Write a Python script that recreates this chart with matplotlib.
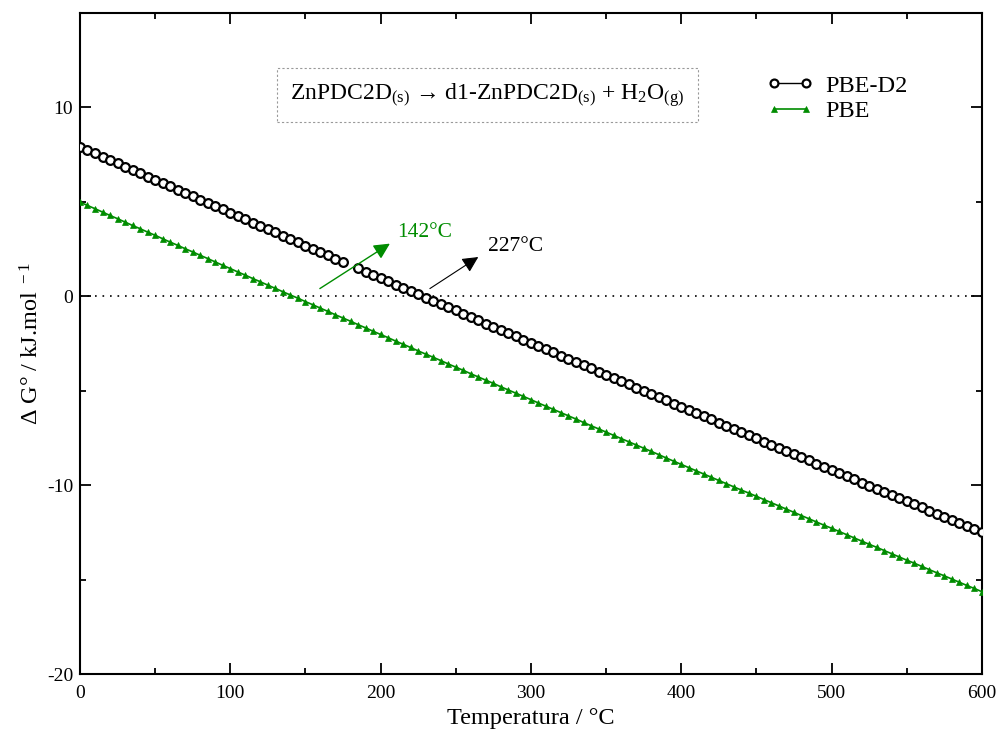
import numpy as np
import matplotlib
matplotlib.use("Agg")
import matplotlib.pyplot as plt
from matplotlib.ticker import MultipleLocator

plt.rcParams['font.family'] = ['Liberation Serif', 'DejaVu Serif']
plt.rcParams['mathtext.fontset'] = 'custom'
plt.rcParams['mathtext.rm'] = 'Liberation Serif'
plt.rcParams['mathtext.it'] = 'Liberation Serif:italic'
plt.rcParams['axes.unicode_minus'] = False

# temperature grid (every 5 degC)
temperatura = list(range(0, 605, 5))

# PBE-D2 (one point missing at 180 degC in the original)
dg_pbe_d2 = [
    7.92, 7.74, 7.57, 7.39, 7.22, 7.04, 6.87, 6.69, 6.52, 6.34,
    6.17, 5.99, 5.82, 5.64, 5.47, 5.29, 5.12, 4.94, 4.77, 4.60,
    4.42, 4.25, 4.07, 3.90, 3.73, 3.55, 3.38, 3.21, 3.03, 2.86,
    2.69, 2.51, 2.34, 2.17, 2.00, 1.82, np.nan, 1.48, 1.31, 1.13,
    0.96, 0.79, 0.62, 0.45, 0.27, 0.10, -0.07, -0.24, -0.41, -0.58,
    -0.75, -0.92, -1.10, -1.27, -1.44, -1.61, -1.78, -1.95, -2.12, -2.29,
    -2.46, -2.63, -2.80, -2.97, -3.14, -3.31, -3.48, -3.65, -3.82, -3.99,
    -4.16, -4.33, -4.50, -4.66, -4.83, -5.00, -5.17, -5.34, -5.51, -5.68,
    -5.84, -6.01, -6.18, -6.35, -6.52, -6.69, -6.85, -7.02, -7.19, -7.36,
    -7.52, -7.69, -7.86, -8.02, -8.19, -8.36, -8.53, -8.69, -8.86, -9.03,
    -9.19, -9.36, -9.52, -9.69, -9.86, -10.02, -10.19, -10.35, -10.52, -10.69,
    -10.85, -11.02, -11.18, -11.35, -11.51, -11.68, -11.84, -12.01, -12.17, -12.34,
    -12.50,
]

# PBE
dg_pbe = [
    4.99, 4.81, 4.64, 4.46, 4.28, 4.11, 3.93, 3.75, 3.58, 3.40,
    3.23, 3.05, 2.87, 2.70, 2.52, 2.35, 2.17, 2.00, 1.82, 1.64,
    1.47, 1.29, 1.12, 0.94, 0.77, 0.59, 0.42, 0.24, 0.07, -0.10,
    -0.28, -0.45, -0.63, -0.80, -0.98, -1.15, -1.32, -1.50, -1.67, -1.85,
    -2.02, -2.19, -2.37, -2.54, -2.71, -2.89, -3.06, -3.23, -3.40, -3.58,
    -3.75, -3.92, -4.10, -4.27, -4.44, -4.61, -4.79, -4.96, -5.13, -5.30,
    -5.47, -5.65, -5.82, -5.99, -6.16, -6.33, -6.50, -6.68, -6.85, -7.02,
    -7.19, -7.36, -7.53, -7.70, -7.87, -8.04, -8.21, -8.38, -8.56, -8.73,
    -8.90, -9.07, -9.24, -9.41, -9.58, -9.75, -9.92, -10.09, -10.26, -10.42,
    -10.59, -10.76, -10.93, -11.10, -11.27, -11.44, -11.61, -11.78, -11.95, -12.12,
    -12.28, -12.45, -12.62, -12.79, -12.96, -13.13, -13.29, -13.46, -13.63, -13.80,
    -13.97, -14.13, -14.30, -14.47, -14.64, -14.80, -14.97, -15.14, -15.31, -15.47,
    -15.64,
]

series_labels = ['PBE-D2', 'PBE']
crossing_labels = ['142°C', '227°C']
reaction = (r"ZnPDC2D$_{\rm (s)}$ → d1-ZnPDC2D$_{\rm (s)}$"
            r" + H$_{\rm 2}$O$_{\rm (g)}$")

green = '#008c00'

fig = plt.figure(figsize=(9.97, 7.32), dpi=100)
ax = fig.add_axes([0.0802, 0.0792, 0.9046, 0.903])

ax.axhline(0, color='black', lw=1.2, ls=(0, (1, 3.5)), zorder=1)

ax.plot(temperatura, dg_pbe_d2, color='black', lw=1.0, marker='o',
        ms=6.3, mfc='white', mec='black', mew=1.6, label=series_labels[0], zorder=3)
ax.plot(temperatura, dg_pbe, color=green, lw=1.2, marker='^',
        ms=5, mfc=green, mec=green, mew=0.5, label=series_labels[1], zorder=3)

ax.set_xlim(0, 600)
ax.set_ylim(-20, 15)
ax.xaxis.set_major_locator(MultipleLocator(100))
ax.xaxis.set_minor_locator(MultipleLocator(50))
ax.yaxis.set_minor_locator(MultipleLocator(5))
ax.set_yticks([-20, -10, 0, 10])
ax.tick_params(which='both', direction='in', top=True, right=True,
               width=1.3, labelsize=14)
ax.tick_params(axis='x', pad=8)
ax.tick_params(axis='y', pad=5)
ax.tick_params(which='major', length=8)
ax.tick_params(which='minor', length=4)
for s in ax.spines.values():
    s.set_linewidth(1.5)

ax.set_xlabel('Temperatura / °C', fontsize=17.5, labelpad=4)
ax.set_ylabel(r'Δ G° / kJ.mol $^{\rm -1}$', fontsize=17.5, labelpad=2)

# reaction box
ax.text(271, 10.65, reaction, fontsize=17, ha='center', va='center',
        bbox=dict(boxstyle='square,pad=0.55', fc='white', ec='#999999',
                  lw=0.8, ls=(0, (2, 2))))

# crossing annotations
ax.annotate('', xy=(206.2, 2.79), xytext=(159.6, 0.41),
            arrowprops=dict(arrowstyle='-|>', color=green, lw=1.0,
                            mutation_scale=24, shrinkA=0, shrinkB=0))
ax.text(210.9, 3.37, crossing_labels[0], color=green, fontsize=15.5,
        ha='left', va='center')
ax.annotate('', xy=(265.0, 2.08), xytext=(232.8, 0.41),
            arrowprops=dict(arrowstyle='-|>', color='black', lw=0.8,
                            mutation_scale=24, shrinkA=0, shrinkB=0))
ax.text(271.4, 2.66, crossing_labels[1], color='black', fontsize=15.5,
        ha='left', va='center')

ax.legend(loc='upper left', bbox_to_anchor=(0.7616, 0.907), frameon=False,
          numpoints=2, fontsize=17.5, handlelength=1.9, handletextpad=0.5,
          borderpad=0, borderaxespad=0, labelspacing=0.15, markerscale=0.9)

fig.savefig('out.png', dpi=100)
plt.close(fig)
